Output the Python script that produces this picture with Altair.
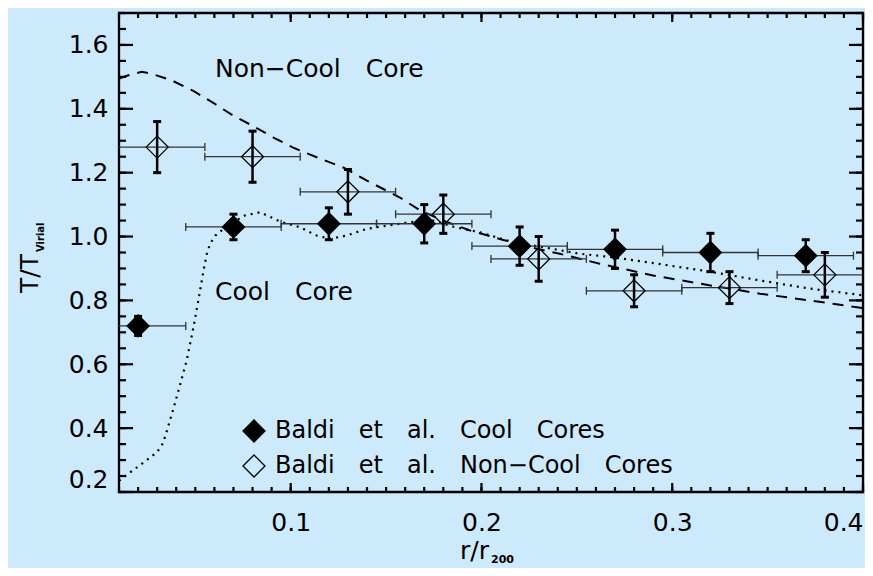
import altair as alt
import pandas as pd

# ---------------- data ----------------
SP = "\u2003"  # wide word space, as in the original's vector font
cc_label = SP.join(["Baldi", "et", "al.", "Cool", "Cores"])
ncc_label = SP.join(["Baldi", "et", "al.", "Non\u2212Cool", "Cores"])

cc_x = [0.02, 0.07, 0.12, 0.17, 0.22, 0.27, 0.32, 0.37]
cc_y = [0.72, 1.03, 1.04, 1.04, 0.97, 0.96, 0.95, 0.94]
cc_err = [0.03, 0.04, 0.05, 0.06, 0.06, 0.06, 0.06, 0.05]

ncc_x = [0.03, 0.08, 0.13, 0.18, 0.23, 0.28, 0.33, 0.38]
ncc_y = [1.28, 1.25, 1.14, 1.07, 0.93, 0.83, 0.84, 0.88]
ncc_err = [0.08, 0.08, 0.07, 0.06, 0.07, 0.05, 0.05, 0.07]

bin_half = 0.025  # half width of radial bins (horizontal error bars)

# Non-cool-core model (dashed)
ncc_model_x = [0.01, 0.015, 0.022, 0.028, 0.038, 0.049, 0.059, 0.07, 0.08, 0.091,
               0.101, 0.115, 0.128, 0.14, 0.157, 0.168, 0.18, 0.194, 0.211, 0.23,
               0.241, 0.262, 0.29, 0.32, 0.346, 0.372, 0.4]
ncc_model_y = [1.495, 1.505, 1.516, 1.508, 1.488, 1.456, 1.42, 1.378, 1.347, 1.31,
               1.279, 1.245, 1.215, 1.175, 1.123, 1.081, 1.05, 1.019, 0.99, 0.96,
               0.946, 0.915, 0.878, 0.847, 0.821, 0.80, 0.776]

# Cool-core model (dotted)
cc_model_x = [0.01, 0.016, 0.023, 0.03, 0.033, 0.035, 0.0385, 0.042, 0.0455, 0.049,
              0.0516, 0.0542, 0.056, 0.0577, 0.0605, 0.065, 0.07, 0.076, 0.084, 0.0944,
              0.1049, 0.1136, 0.1206, 0.1293, 0.1398, 0.1503, 0.1625, 0.1747, 0.1843,
              0.1992, 0.2167, 0.234, 0.2516, 0.269, 0.2866, 0.3197, 0.346, 0.372, 0.4]
cc_model_y = [0.235, 0.262, 0.293, 0.325, 0.352, 0.39, 0.46, 0.535, 0.612, 0.715,
              0.80, 0.89, 0.945, 0.977, 1.003, 1.025, 1.045, 1.066, 1.076, 1.047,
              1.029, 1.003, 0.993, 1.003, 1.024, 1.034, 1.045, 1.05, 1.032,
              1.013, 0.982, 0.965, 0.946, 0.935, 0.92, 0.89, 0.8625, 0.837, 0.816]

# annotations (data coordinates)
ann_text = ["Non\u2212Cool" + SP + "Core", "Cool" + SP + "Core"]
ann_x = [0.0603, 0.0603]
ann_y = [1.524, 0.826]

# axes
x_domain = [0.01, 0.4]
y_domain = [0.2, 1.7]
x_major = [0.1, 0.2, 0.3, 0.4]
x_minor = [round(0.01 * i, 2) for i in range(1, 41)]
y_major = [0.2, 0.4, 0.6, 0.8, 1.0, 1.2, 1.4, 1.6]
y_minor = [round(0.2 + 0.05 * i, 2) for i in range(31)]

# ---------------- layout ----------------
W, H = 744, 479
FONT = "DejaVu Sans"
BG = "#cceafc"

xs = alt.Scale(domain=x_domain, nice=False, zero=False)
ys = alt.Scale(domain=y_domain, nice=False, zero=False)

xaxis = alt.Axis(values=x_major, format=".1f", labelFontSize=25, labelFont=FONT,
                 labelColor="black", ticks=False, domain=False, grid=False,
                 labelPadding=18, labelFlush=True, labelFlushOffset=0, title=None)
yaxis = alt.Axis(values=y_major, format=".1f", labelFontSize=25, labelFont=FONT,
                 labelColor="black", ticks=False, domain=False, grid=False,
                 labelPadding=11, labelFlush=True, title=None)


def X(f):
    return alt.X(f, type="quantitative", scale=xs, axis=xaxis, title=None)


def Y(f):
    return alt.Y(f, type="quantitative", scale=ys, axis=yaxis, title=None)


pts = pd.DataFrame({
    "series": [cc_label] * len(cc_x) + [ncc_label] * len(ncc_x),
    "x": cc_x + ncc_x,
    "y": cc_y + ncc_y,
    "err": cc_err + ncc_err,
})
pts["ylo"] = pts["y"] - pts["err"]
pts["yhi"] = pts["y"] + pts["err"]
pts["xlo"] = pts["x"] - bin_half
pts["xhi"] = pts["x"] + bin_half

base = alt.Chart(pts)

dashed = alt.Chart(pd.DataFrame({"x": ncc_model_x, "y": ncc_model_y})).mark_line(
    color="black", strokeWidth=2, strokeDash=[11, 8], clip=True
).encode(x=X("x"), y=Y("y"))

dotted = alt.Chart(pd.DataFrame({"x": cc_model_x, "y": cc_model_y})).mark_line(
    color="black", strokeWidth=2.2, strokeDash=[2, 5], clip=True
).encode(x=X("x"), y=Y("y"))

HB = "#333333"
hbar = base.mark_rule(color=HB, strokeWidth=1.3, clip=True).encode(
    x=X("xlo"), x2="xhi", y=Y("y"))
hcap_lo = base.mark_tick(orient="vertical", size=8, thickness=1.3, color=HB,
                         opacity=1, clip=True).encode(x=X("xlo"), y=Y("y"))
hcap_hi = base.mark_tick(orient="vertical", size=8, thickness=1.3, color=HB,
                         opacity=1, clip=True).encode(x=X("xhi"), y=Y("y"))

vbar = base.mark_rule(color="black", strokeWidth=2.5).encode(
    x=X("x"), y=Y("ylo"), y2="yhi")
vcap_lo = base.mark_tick(orient="horizontal", size=8, thickness=3, color="black",
                         opacity=1).encode(x=X("x"), y=Y("ylo"))
vcap_hi = base.mark_tick(orient="horizontal", size=8, thickness=3, color="black",
                         opacity=1).encode(x=X("x"), y=Y("yhi"))

legend = alt.Legend(title=None, orient="none", legendX=123, legendY=406,
                    symbolType="diamond", symbolSize=484, symbolStrokeColor="black",
                    symbolStrokeWidth=1.3, labelFontSize=24, labelFont=FONT,
                    labelColor="black", labelOffset=9, rowPadding=7, padding=0,
                    labelLimit=0)

points = base.mark_point(shape="diamond", size=484, filled=True, strokeWidth=1.3,
                         opacity=1).encode(
    x=X("x"), y=Y("y"),
    fill=alt.Fill("series:N",
                  scale=alt.Scale(domain=[cc_label, ncc_label],
                                  range=["black", "transparent"]),
                  legend=legend),
    stroke=alt.value("black"),
)

# inward-pointing axis ticks
yM = alt.Chart(pd.DataFrame({"v": y_major}))
ym = alt.Chart(pd.DataFrame({"v": y_minor}))
xM = alt.Chart(pd.DataFrame({"v": x_major}))
xm = alt.Chart(pd.DataFrame({"v": x_minor}))
tk = dict(color="black", strokeWidth=2.2)
ticks = [
    yM.mark_rule(**tk).encode(y=Y("v"), x=alt.value(0), x2=alt.value(14)),
    yM.mark_rule(**tk).encode(y=Y("v"), x=alt.value(W - 14), x2=alt.value(W)),
    ym.mark_rule(**tk).encode(y=Y("v"), x=alt.value(0), x2=alt.value(7)),
    ym.mark_rule(**tk).encode(y=Y("v"), x=alt.value(W - 7), x2=alt.value(W)),
    xM.mark_rule(**tk).encode(x=X("v"), y=alt.value(H - 9), y2=alt.value(H)),
    xM.mark_rule(**tk).encode(x=X("v"), y=alt.value(0), y2=alt.value(9)),
    xm.mark_rule(**tk).encode(x=X("v"), y=alt.value(H - 5), y2=alt.value(H)),
    xm.mark_rule(**tk).encode(x=X("v"), y=alt.value(0), y2=alt.value(5)),
]

ann = alt.Chart(pd.DataFrame({"t": ann_text, "x": ann_x, "y": ann_y})).mark_text(
    font=FONT, fontSize=25, align="left", baseline="middle", color="black"
).encode(x=X("x"), y=Y("y"), text="t:N")

one = alt.Chart(pd.DataFrame({"a": [0]}))
ytitle_main = one.mark_text(text="T/T", font=FONT, fontSize=25, angle=270,
                            align="left", baseline="alphabetic", color="black").encode(
    x=alt.value(-81), y=alt.value(280))
ytitle_sub = one.mark_text(text="Virial", font=FONT, fontSize=10, fontWeight="bold",
                           angle=270, align="left", baseline="alphabetic",
                           color="black").encode(x=alt.value(-75), y=alt.value(239))
xtitle_main = one.mark_text(text="r/r", font=FONT, fontSize=25, align="left",
                            baseline="alphabetic", color="black").encode(
    x=alt.value(341), y=alt.value(546))
xtitle_sub = one.mark_text(text="200", font=FONT, fontSize=11, fontWeight="bold",
                           align="left", baseline="alphabetic", color="black").encode(
    x=alt.value(372), y=alt.value(550))

chart = alt.layer(
    dashed, dotted, hbar, hcap_lo, hcap_hi, vbar, vcap_lo, vcap_hi, points,
    *ticks, ann, ytitle_main, ytitle_sub, xtitle_main, xtitle_sub
).properties(
    width=W, height=H, background=BG, autosize="none",
    padding={"left": 111, "top": 5, "right": 2, "bottom": 76},
).configure_view(
    stroke="black", strokeWidth=2.3
)

chart.save("out.html", embed_options={"renderer": "svg", "actions": False})
